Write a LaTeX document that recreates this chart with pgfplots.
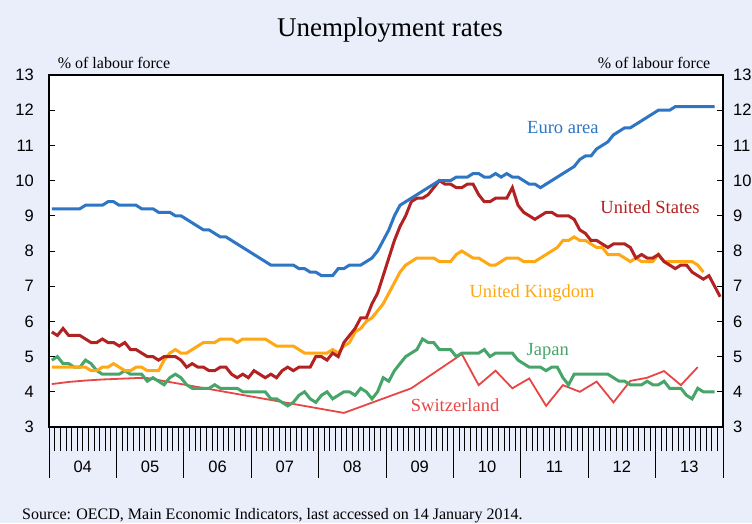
\documentclass[border=0pt]{standalone}
\usepackage{fontspec}
\setmainfont{Liberation Serif}
\setsansfont{Liberation Sans}
\usepackage{pgfplots}
\usepackage{pgfplotstable}
\pgfplotsset{compat=1.18}

\definecolor{bg}{RGB}{234,237,250}
\definecolor{euro}{RGB}{46,117,196}
\definecolor{usa}{RGB}{178,34,34}
\definecolor{uk}{RGB}{255,168,20}
\definecolor{jp}{RGB}{72,165,105}
\definecolor{ch}{RGB}{232,70,70}

\pgfplotstableread[row sep=\\]{
i v\\
0 9.2\\ 1 9.2\\ 2 9.2\\ 3 9.2\\ 4 9.2\\ 5 9.2\\ 6 9.3\\ 7 9.3\\ 8 9.3\\ 9 9.3\\ 10 9.4\\ 11 9.4\\
12 9.3\\ 13 9.3\\ 14 9.3\\ 15 9.3\\ 16 9.2\\ 17 9.2\\ 18 9.2\\ 19 9.1\\ 20 9.1\\ 21 9.1\\ 22 9.0\\ 23 9.0\\
24 8.9\\ 25 8.8\\ 26 8.7\\ 27 8.6\\ 28 8.6\\ 29 8.5\\ 30 8.4\\ 31 8.4\\ 32 8.3\\ 33 8.2\\ 34 8.1\\ 35 8.0\\
36 7.9\\ 37 7.8\\ 38 7.7\\ 39 7.6\\ 40 7.6\\ 41 7.6\\ 42 7.6\\ 43 7.6\\ 44 7.5\\ 45 7.5\\ 46 7.4\\ 47 7.4\\
48 7.3\\ 49 7.3\\ 50 7.3\\ 51 7.5\\ 52 7.5\\ 53 7.6\\ 54 7.6\\ 55 7.6\\ 56 7.7\\ 57 7.8\\ 58 8.0\\ 59 8.3\\
60 8.6\\ 61 9.0\\ 62 9.3\\ 63 9.4\\ 64 9.5\\ 65 9.6\\ 66 9.7\\ 67 9.8\\ 68 9.9\\ 69 10.0\\ 70 10.0\\ 71 10.0\\
72 10.1\\ 73 10.1\\ 74 10.1\\ 75 10.2\\ 76 10.2\\ 77 10.1\\ 78 10.1\\ 79 10.2\\ 80 10.1\\ 81 10.2\\ 82 10.1\\ 83 10.1\\
84 10.0\\ 85 9.9\\ 86 9.9\\ 87 9.8\\ 88 9.9\\ 89 10.0\\ 90 10.1\\ 91 10.2\\ 92 10.3\\ 93 10.4\\ 94 10.6\\ 95 10.7\\
96 10.7\\ 97 10.9\\ 98 11.0\\ 99 11.1\\ 100 11.3\\ 101 11.4\\ 102 11.5\\ 103 11.5\\ 104 11.6\\ 105 11.7\\ 106 11.8\\ 107 11.9\\
108 12.0\\ 109 12.0\\ 110 12.0\\ 111 12.1\\ 112 12.1\\ 113 12.1\\ 114 12.1\\ 115 12.1\\ 116 12.1\\ 117 12.1\\ 118 12.1\\
}\euroarea

\pgfplotstableread[row sep=\\]{
i v\\
0 5.7\\ 1 5.6\\ 2 5.8\\ 3 5.6\\ 4 5.6\\ 5 5.6\\ 6 5.5\\ 7 5.4\\ 8 5.4\\ 9 5.5\\ 10 5.4\\ 11 5.4\\
12 5.3\\ 13 5.4\\ 14 5.2\\ 15 5.2\\ 16 5.1\\ 17 5.0\\ 18 5.0\\ 19 4.9\\ 20 5.0\\ 21 5.0\\ 22 5.0\\ 23 4.9\\
24 4.7\\ 25 4.8\\ 26 4.7\\ 27 4.7\\ 28 4.6\\ 29 4.6\\ 30 4.7\\ 31 4.7\\ 32 4.5\\ 33 4.4\\ 34 4.5\\ 35 4.4\\
36 4.6\\ 37 4.5\\ 38 4.4\\ 39 4.5\\ 40 4.4\\ 41 4.6\\ 42 4.7\\ 43 4.6\\ 44 4.7\\ 45 4.7\\ 46 4.7\\ 47 5.0\\
48 5.0\\ 49 4.9\\ 50 5.1\\ 51 5.0\\ 52 5.4\\ 53 5.6\\ 54 5.8\\ 55 6.1\\ 56 6.1\\ 57 6.5\\ 58 6.8\\ 59 7.3\\
60 7.8\\ 61 8.3\\ 62 8.7\\ 63 9.0\\ 64 9.4\\ 65 9.5\\ 66 9.5\\ 67 9.6\\ 68 9.8\\ 69 10.0\\ 70 9.9\\ 71 9.9\\
72 9.8\\ 73 9.8\\ 74 9.9\\ 75 9.9\\ 76 9.6\\ 77 9.4\\ 78 9.4\\ 79 9.5\\ 80 9.5\\ 81 9.5\\ 82 9.8\\ 83 9.3\\
84 9.1\\ 85 9.0\\ 86 8.9\\ 87 9.0\\ 88 9.1\\ 89 9.1\\ 90 9.0\\ 91 9.0\\ 92 9.0\\ 93 8.9\\ 94 8.6\\ 95 8.5\\
96 8.3\\ 97 8.3\\ 98 8.2\\ 99 8.1\\ 100 8.2\\ 101 8.2\\ 102 8.2\\ 103 8.1\\ 104 7.8\\ 105 7.9\\ 106 7.8\\ 107 7.8\\
108 7.9\\ 109 7.7\\ 110 7.6\\ 111 7.5\\ 112 7.6\\ 113 7.6\\ 114 7.4\\ 115 7.3\\ 116 7.2\\ 117 7.3\\ 118 7.0\\ 119 6.7\\
}\usdata

\pgfplotstableread[row sep=\\]{
i v\\
0 4.7\\ 1 4.7\\ 2 4.7\\ 3 4.7\\ 4 4.7\\ 5 4.7\\ 6 4.7\\ 7 4.6\\ 8 4.6\\ 9 4.7\\ 10 4.7\\ 11 4.8\\
12 4.7\\ 13 4.6\\ 14 4.6\\ 15 4.7\\ 16 4.7\\ 17 4.6\\ 18 4.6\\ 19 4.6\\ 20 4.9\\ 21 5.1\\ 22 5.2\\ 23 5.1\\
24 5.1\\ 25 5.2\\ 26 5.3\\ 27 5.4\\ 28 5.4\\ 29 5.4\\ 30 5.5\\ 31 5.5\\ 32 5.5\\ 33 5.4\\ 34 5.5\\ 35 5.5\\
36 5.5\\ 37 5.5\\ 38 5.5\\ 39 5.4\\ 40 5.3\\ 41 5.3\\ 42 5.3\\ 43 5.3\\ 44 5.2\\ 45 5.1\\ 46 5.1\\ 47 5.1\\
48 5.1\\ 49 5.1\\ 50 5.2\\ 51 5.1\\ 52 5.3\\ 53 5.4\\ 54 5.7\\ 55 5.8\\ 56 6.0\\ 57 6.1\\ 58 6.3\\ 59 6.5\\
60 6.8\\ 61 7.1\\ 62 7.4\\ 63 7.6\\ 64 7.7\\ 65 7.8\\ 66 7.8\\ 67 7.8\\ 68 7.8\\ 69 7.7\\ 70 7.7\\ 71 7.7\\
72 7.9\\ 73 8.0\\ 74 7.9\\ 75 7.8\\ 76 7.8\\ 77 7.7\\ 78 7.6\\ 79 7.6\\ 80 7.7\\ 81 7.8\\ 82 7.8\\ 83 7.8\\
84 7.7\\ 85 7.7\\ 86 7.7\\ 87 7.8\\ 88 7.9\\ 89 8.0\\ 90 8.1\\ 91 8.3\\ 92 8.3\\ 93 8.4\\ 94 8.3\\ 95 8.3\\
96 8.2\\ 97 8.1\\ 98 8.1\\ 99 7.9\\ 100 7.9\\ 101 7.9\\ 102 7.8\\ 103 7.7\\ 104 7.8\\ 105 7.7\\ 106 7.7\\ 107 7.7\\
108 7.9\\ 109 7.7\\ 110 7.7\\ 111 7.7\\ 112 7.7\\ 113 7.7\\ 114 7.7\\ 115 7.6\\ 116 7.4\\
}\ukdata

\pgfplotstableread[row sep=\\]{
i v\\
0 4.9\\ 1 5.0\\ 2 4.8\\ 3 4.8\\ 4 4.7\\ 5 4.7\\ 6 4.9\\ 7 4.8\\ 8 4.6\\ 9 4.5\\ 10 4.5\\ 11 4.5\\
12 4.5\\ 13 4.6\\ 14 4.5\\ 15 4.5\\ 16 4.5\\ 17 4.3\\ 18 4.4\\ 19 4.3\\ 20 4.2\\ 21 4.4\\ 22 4.5\\ 23 4.4\\
24 4.2\\ 25 4.1\\ 26 4.1\\ 27 4.1\\ 28 4.1\\ 29 4.2\\ 30 4.1\\ 31 4.1\\ 32 4.1\\ 33 4.1\\ 34 4.0\\ 35 4.0\\
36 4.0\\ 37 4.0\\ 38 4.0\\ 39 3.8\\ 40 3.8\\ 41 3.7\\ 42 3.6\\ 43 3.7\\ 44 3.9\\ 45 4.0\\ 46 3.8\\ 47 3.7\\
48 3.9\\ 49 4.0\\ 50 3.8\\ 51 3.9\\ 52 4.0\\ 53 4.0\\ 54 3.9\\ 55 4.1\\ 56 4.0\\ 57 3.8\\ 58 4.0\\ 59 4.4\\
60 4.3\\ 61 4.6\\ 62 4.8\\ 63 5.0\\ 64 5.1\\ 65 5.2\\ 66 5.5\\ 67 5.4\\ 68 5.4\\ 69 5.2\\ 70 5.2\\ 71 5.2\\
72 5.0\\ 73 5.1\\ 74 5.1\\ 75 5.1\\ 76 5.1\\ 77 5.2\\ 78 5.0\\ 79 5.1\\ 80 5.1\\ 81 5.1\\ 82 5.1\\ 83 4.9\\
84 4.8\\ 85 4.7\\ 86 4.7\\ 87 4.7\\ 88 4.6\\ 89 4.7\\ 90 4.7\\ 91 4.4\\ 92 4.2\\ 93 4.5\\ 94 4.5\\ 95 4.5\\
96 4.5\\ 97 4.5\\ 98 4.5\\ 99 4.5\\ 100 4.4\\ 101 4.3\\ 102 4.3\\ 103 4.2\\ 104 4.2\\ 105 4.2\\ 106 4.3\\ 107 4.2\\
108 4.2\\ 109 4.3\\ 110 4.1\\ 111 4.1\\ 112 4.1\\ 113 3.9\\ 114 3.8\\ 115 4.1\\ 116 4.0\\ 117 4.0\\ 118 4.0\\
}\jpdata

\pgfplotstableread[row sep=\\]{
i v\\
0 4.22\\ 3 4.28\\ 6 4.32\\ 9 4.35\\ 12 4.37\\ 15 4.39\\ 17 4.39\\ 52 3.40\\ 64 4.10\\ 73 5.07\\
76 4.19\\ 79 4.60\\ 82 4.10\\ 85 4.38\\ 88 3.60\\ 91 4.19\\ 94 4.00\\ 97 4.29\\ 100 3.70\\ 103 4.31\\
106 4.40\\ 109 4.59\\ 112 4.19\\ 115 4.70\\
}\chdata

\begin{document}
\begin{tikzpicture}
\fill[bg] (0,0) rectangle (752pt,523pt);
\pgfplotsset{
  common/.style={
    at={(49pt,96pt)}, anchor=south west,
    width=674pt, height=352pt, scale only axis,
    xmin=0, xmax=120, ymin=3, ymax=13,
    /pgf/number format/assume math mode=true,
  },
}
% data axis with x ticks
\begin{axis}[common,
  axis background/.style={fill=white},
  axis line style={black, line width=1.2pt},
  tick align=outside,
  xtick={6,18,...,114},
  xticklabels={04,05,06,07,08,09,10,11,12,13},
  xtick pos=bottom,
  major tick length=0pt,
  minor xtick={0,1,...,120},
  minor tick length=24pt,
  minor tick style={black, line width=0.7pt},
  extra x ticks={0,12,...,120},
  extra x tick labels={},
  extra x tick style={major tick length=51pt, tick style={black, line width=1pt}},
  xticklabel style={font=\sffamily\fontsize{16.5}{16.5}\selectfont, anchor=center, yshift=-40pt},
  ytick=\empty,
  clip=true,
]
\addplot[ch, line width=1.8pt] table[x expr=\thisrow{i}+0.5, y=v] {\chdata};
\addplot[jp, line width=3pt] table[x expr=\thisrow{i}+0.5, y=v] {\jpdata};
\addplot[uk, line width=3pt] table[x expr=\thisrow{i}+0.5, y=v] {\ukdata};
\addplot[usa, line width=3pt] table[x expr=\thisrow{i}+0.5, y=v] {\usdata};
\addplot[euro, line width=3pt] table[x expr=\thisrow{i}+0.5, y=v] {\euroarea};
\node[euro, font=\fontsize{18.5}{18.5}\selectfont] at (axis cs:91.5,11.52) {Euro area};
\node[usa, font=\fontsize{18.5}{18.5}\selectfont] at (axis cs:107,9.25) {United States};
\node[uk, font=\fontsize{18.5}{18.5}\selectfont] at (axis cs:86,6.81) {United Kingdom};
\node[jp, font=\fontsize{18.5}{18.5}\selectfont] at (axis cs:88.8,5.16) {Japan};
\node[ch, font=\fontsize{18.5}{18.5}\selectfont] at (axis cs:72.3,3.63) {Switzerland};
\end{axis}
% left y axis
\begin{axis}[common,
  axis line style={draw=none},
  xtick=\empty,
  ytick={3,...,13},
  ytick pos=left, yticklabel pos=left,
  tick align=inside,
  major tick length=6pt,
  tick style={black, line width=1pt},
  yticklabel style={font=\sffamily\fontsize{16.5}{16.5}\selectfont, anchor=east, inner sep=0pt, xshift=-15pt},
]
\end{axis}
% right y axis
\begin{axis}[common,
  axis line style={draw=none},
  xtick=\empty,
  ytick={3,...,13},
  ytick pos=right, yticklabel pos=right,
  tick align=inside,
  major tick length=6pt,
  tick style={black, line width=1pt},
  yticklabel style={font=\sffamily\fontsize{16.5}{16.5}\selectfont, anchor=west, inner sep=0pt, xshift=10pt},
]
\end{axis}
\node[font=\fontsize{27}{27}\selectfont] at (390pt,493pt) {Unemployment rates};
\node[font=\fontsize{16}{16}\selectfont] at (114pt,460pt) {\% of labour force};
\node[font=\fontsize{16}{16}\selectfont] at (654pt,460pt) {\% of labour force};
\node[font=\fontsize{16}{16}\selectfont, anchor=base west, inner sep=0pt] at (22pt,4pt) {Source: OECD, Main Economic Indicators, last accessed on 14 January 2014.};
\end{tikzpicture}
\end{document}
